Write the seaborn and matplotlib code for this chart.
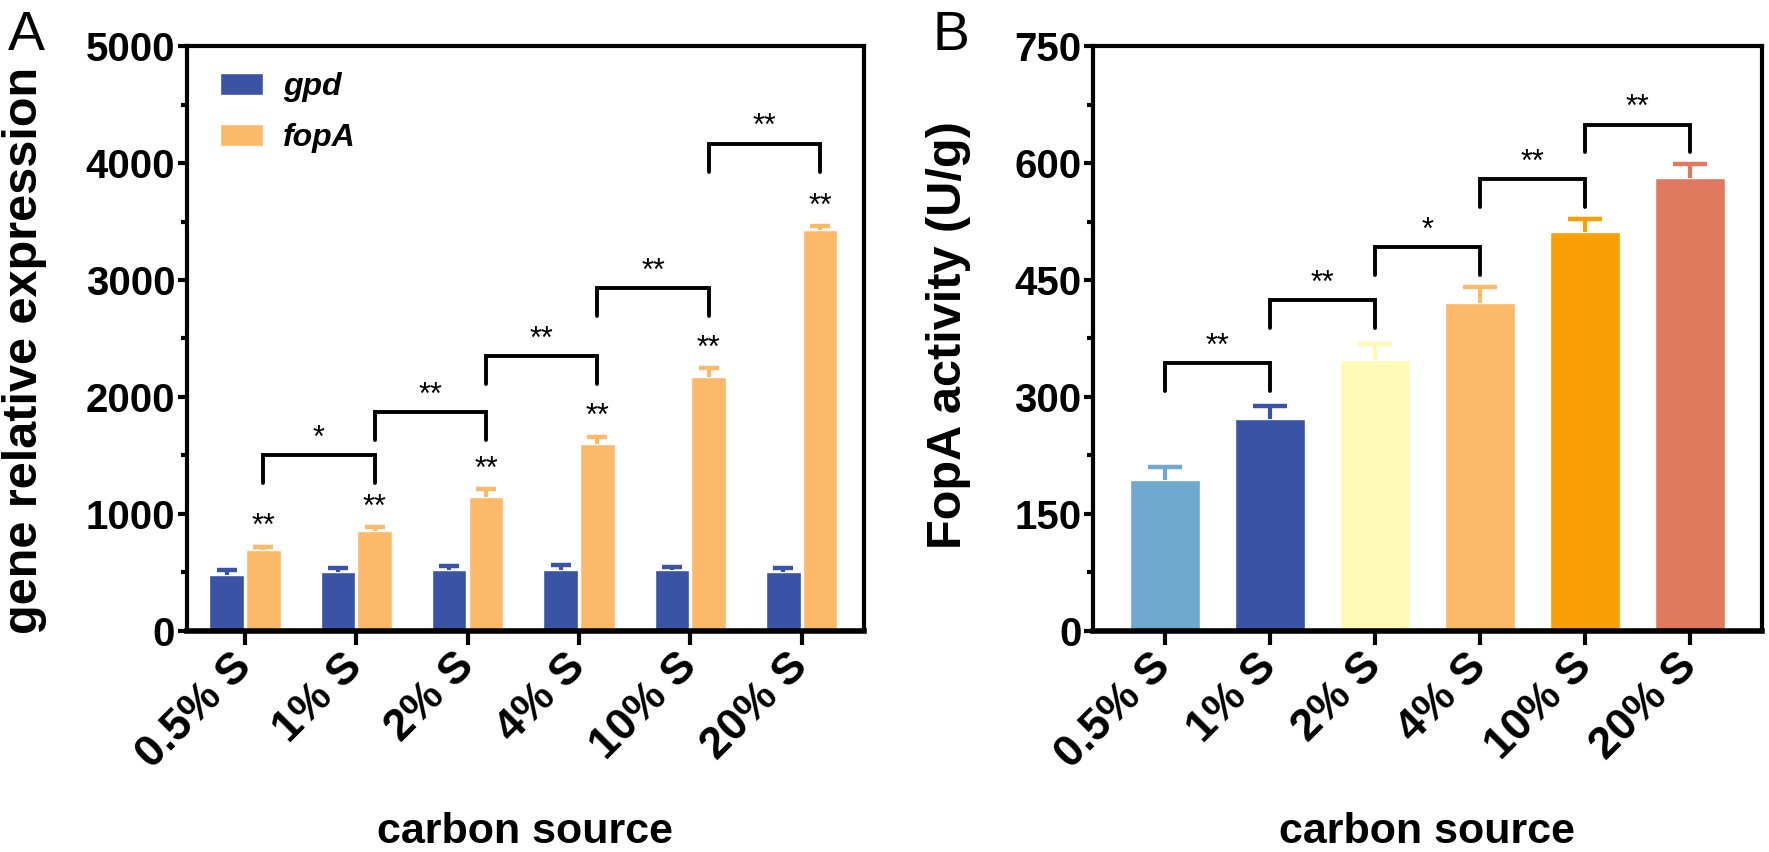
import matplotlib
matplotlib.use("Agg")
import matplotlib.pyplot as plt
import numpy as np
import pandas as pd
import seaborn as sns

# data
categories = ["0.5% S", "1% S", "2% S", "4% S", "10% S", "20% S"]

gpd_mean = [482, 502, 522, 525, 520, 500]
gpd_err = [43, 40, 35, 42, 23, 36]
fopa_mean = [690, 852, 1148, 1597, 2170, 3430]
fopa_err = [32, 40, 65, 65, 75, 32]
fopa_sig = ["**", "**", "**", "**", "**", "**"]
a_pair_sig = ["*", "**", "**", "**", "**"]
a_bracket_y = [1505, 1870, 2350, 2930, 4165]

activity = [194, 272, 347, 420, 511, 581]
activity_err = [16, 17, 21, 21, 17, 18]
b_pair_sig = ["**", "**", "*", "**", "**"]
b_bracket_y = [343, 424, 492, 579, 649]

gene_colors = ["#3A53A4", "#FDB96A"]
b_colors = ["#70A9CF", "#3A53A4", "#FEF9B7", "#FDB96A", "#FB9F06", "#E07A5F"]

sns.set_theme(style="ticks")
plt.rcParams["font.family"] = ["Liberation Sans", "DejaVu Sans"]
plt.rcParams.update({"text.color": "black", "axes.labelcolor": "black",
                     "xtick.color": "black", "ytick.color": "black",
                     "axes.edgecolor": "black"})

fig = plt.figure(figsize=(17.69, 8.52), dpi=100)
axA = fig.add_axes([0.1057, 0.2594, 0.3827, 0.6866])
axB = fig.add_axes([0.6179, 0.2594, 0.3780, 0.6866])


def style_axis(ax, ymax, major, ylabel):
    ax.set_ylim(0, ymax)
    ax.set_yticks(np.arange(0, ymax + 1, major))
    ax.set_yticks(np.arange(major / 2, ymax, major), minor=True)
    for side in ["left", "top", "right"]:
        ax.spines[side].set_linewidth(3)
    ax.spines["bottom"].set_linewidth(4)
    ax.tick_params(axis="y", which="major", length=6.5, width=3, labelsize=29, pad=2)
    ax.tick_params(axis="y", which="minor", length=4, width=3)
    ax.tick_params(axis="x", length=10, width=3, pad=11)
    for lab in ax.get_yticklabels():
        lab.set_fontweight("bold")
    ax.set_xticks(range(len(categories)))
    ax.set_xticklabels(categories, rotation=45, ha="right", va="center",
                       rotation_mode="anchor", fontsize=32, fontweight="bold")
    ax.set_ylabel(ylabel, fontsize=35, fontweight="bold")
    ax.set_xlabel("carbon source", fontsize=31, fontweight="bold")
    ax.xaxis.set_label_coords(0.5, -0.31)


def up_errorbar(ax, xs, means, errs, color, capsize):
    _, caps, _ = ax.errorbar(xs, means, yerr=[np.zeros(len(errs)), errs], fmt="none",
                             ecolor=color, elinewidth=3, capsize=capsize,
                             capthick=3.2, zorder=3)
    caps[0].set_visible(False)


def bracket(ax, x1, x2, y, leg, sig, star_pad):
    ax.plot([x1, x1, x2, x2], [y - leg, y, y, y - leg], color="black", lw=2.8,
            solid_joinstyle="miter", zorder=4)
    ax.annotate(sig, xy=((x1 + x2) / 2, y), xytext=(0, star_pad),
                textcoords="offset points", ha="center", va="bottom", fontsize=22)


# panel A
dfA = pd.DataFrame({
    "source": categories * 2,
    "value": gpd_mean + fopa_mean,
    "gene": ["gpd"] * 6 + ["fopA"] * 6,
})
sns.barplot(data=dfA, x="source", y="value", hue="gene", palette=gene_colors,
            width=0.66, gap=0.06, errorbar=None, saturation=1, ax=axA)
axA.set_xlim(-0.52, 5.56)

centersA = []
for cont, means, errs, col in zip(axA.containers, [gpd_mean, fopa_mean],
                                  [gpd_err, fopa_err], gene_colors):
    xs = [p.get_x() + p.get_width() / 2 for p in cont]
    centersA.append(xs)
    up_errorbar(axA, xs, means, errs, col, 7)

for x, m, e, s in zip(centersA[1], fopa_mean, fopa_err, fopa_sig):
    axA.annotate(s, xy=(x, m + e), xytext=(0, 3), textcoords="offset points",
                 ha="center", va="bottom", fontsize=22)

for i, (s, y) in enumerate(zip(a_pair_sig, a_bracket_y)):
    bracket(axA, centersA[1][i], centersA[1][i + 1], y, 240, s, 1)

style_axis(axA, 5000, 1000, "gene relative expression")
axA.yaxis.set_label_coords(-0.207, 0.48)

handles, labels = axA.get_legend_handles_labels()
axA.legend(handles, labels, loc="upper left", bbox_to_anchor=(0.049, 0.955),
           frameon=False, borderpad=0, borderaxespad=0, handlelength=1.35,
           handleheight=0.66, handletextpad=0.62, labelspacing=0.65,
           prop={"style": "italic", "weight": "bold", "size": 23})

# panel B
dfB = pd.DataFrame({"source": categories, "value": activity})
sns.barplot(data=dfB, x="source", y="value", hue="source", palette=b_colors,
            width=0.665, errorbar=None, saturation=1, legend=False, ax=axB)
axB.set_xlim(-0.68, 5.68)

centersB = [p.get_x() + p.get_width() / 2 for cont in axB.containers for p in cont]
for x, m, e, col in zip(centersB, activity, activity_err, b_colors):
    up_errorbar(axB, [x], [m], [e], col, 12)

for i, (s, y) in enumerate(zip(b_pair_sig, b_bracket_y)):
    bracket(axB, centersB[i], centersB[i + 1], y, 35, s, 1)

style_axis(axB, 750, 150, "FopA activity (U/g)")
axB.yaxis.set_label_coords(-0.182, 0.506)

fig.text(0.0045, 0.988, "A", fontsize=40, va="top", ha="left")
fig.text(0.527, 0.988, "B", fontsize=40, va="top", ha="left")

fig.savefig("out.png", dpi=100)
